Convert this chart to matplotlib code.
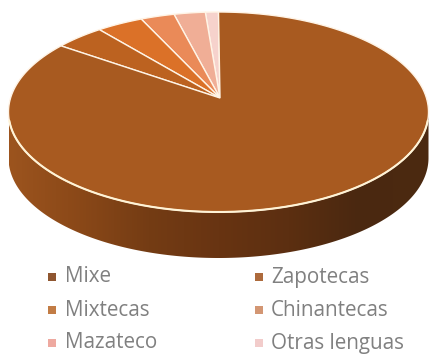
import numpy as np
import matplotlib
matplotlib.use("Agg")
import matplotlib.pyplot as plt
from matplotlib.patches import Polygon, Rectangle
from matplotlib.colors import LinearSegmentedColormap

# Percent share per language, drawn clockwise from twelve o'clock
categories = ["Mixe", "Zapotecas", "Mixtecas", "Chinantecas", "Mazateco", "Otras lenguas"]
shares = [86.5, 3.9, 3.6, 2.6, 2.4, 1.0]
slice_colors = ["#A85A20", "#BC6220", "#DB7128", "#EA8A58", "#F0AE96", "#F6D2CC"]
legend_colors = ["#8F5630", "#AD6A3C", "#C27C45", "#D39673", "#EEA9A0", "#F2CCCB"]

# Disc geometry in pixel units
cx, cy, rx, ry = 218.5, 112.0, 210.0, 100.0
apex = (220.0, 98.0)
depth = 46.0

fig = plt.figure(figsize=(4.3, 3.54), dpi=100)
ax = fig.add_axes([0, 0, 1, 1])
ax.set_xlim(0, 430)
ax.set_ylim(354, 0)
ax.axis("off")


def rim(t):
    return cx + rx * np.sin(t), cy - ry * np.cos(t)


# Cylinder wall: lower half of the rim swept down by the depth
t_side = np.radians(np.linspace(90, 270, 300))
sx, sy = rim(t_side)
wall = np.column_stack([np.r_[sx, sx[::-1]], np.r_[sy, sy[::-1] + depth]])
wall_patch = Polygon(wall, closed=True, fc="none", ec="none", transform=ax.transData)
ax.add_patch(wall_patch)
wall_cmap = LinearSegmentedColormap.from_list(
    "wall", ["#9C541E", "#8A4818", "#743C14", "#683412", "#5C2F11", "#4A2810", "#4C2A10"]
)
gradient = np.linspace(0, 1, 256).reshape(1, -1)
wall_img = ax.imshow(gradient, cmap=wall_cmap, extent=(cx - rx, cx + rx, 270, 100),
                     aspect="auto", zorder=1)
wall_img.set_clip_path(wall_patch)
ax.set_xlim(0, 430)
ax.set_ylim(354, 0)

# Top face: wedges fan out from the off-centre apex to the rim
start = 0.0
for share, color in zip(shares[::-1], slice_colors[::-1]):
    # Small slices run anticlockwise from the top, the remainder closes the disc
    a0 = -start / 100 * 2 * np.pi
    a1 = -(start + share) / 100 * 2 * np.pi
    t = np.linspace(a0, a1, max(4, int(share * 8)))
    x, y = rim(t)
    pts = np.column_stack([np.r_[apex[0], x], np.r_[apex[1], y]])
    ax.add_patch(Polygon(pts, closed=True, fc=color, ec="#FFF4E6", lw=1.0, zorder=2,
                         joinstyle="miter"))
    start += share

# Pale highlight along the front rim
t_front = np.radians(np.linspace(95, 265, 300))
fx, fy = rim(t_front)
ax.plot(fx, fy, color="#FFF3D6", lw=1.5, zorder=3, solid_capstyle="round")

# Legend in two columns
cols = [(52, 65), (259, 271)]
rows = [277, 310, 343]
for i, (name, color) in enumerate(zip(categories, legend_colors)):
    mx, tx = cols[i % 2]
    y = rows[i // 2]
    ax.add_patch(Rectangle((mx - 4, y - 4), 8, 8, fc=color, ec="none", zorder=4))
    ax.text(tx, y, name, color="#808080", fontsize=14.9, family="Open Sans",
            va="center", ha="left", zorder=4)

fig.savefig("out.png", dpi=100, facecolor="white")
